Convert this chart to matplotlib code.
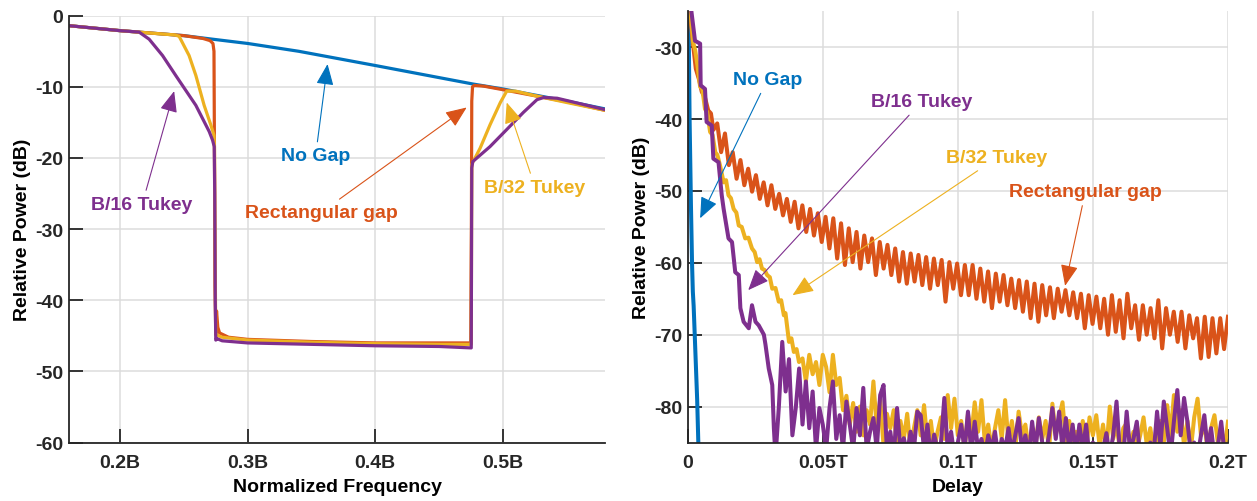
import numpy as np
import matplotlib
matplotlib.use("Agg")
import matplotlib.pyplot as plt

plt.rcParams['font.family'] = ['Liberation Sans', 'DejaVu Sans']
plt.rcParams['font.weight'] = 'bold'
plt.rcParams['axes.labelweight'] = 'bold'
plt.rcParams['axes.unicode_minus'] = False

BLUE = '#0072BD'
ORANGE = '#D95319'
YELLOW = '#EDB120'
PURPLE = '#7E2F8E'

# ---------------- spectrum, power vs normalized frequency ----------------
nogap_f = [0.16, 0.20, 0.25, 0.2725, 0.30, 0.34, 0.40, 0.45, 0.4765, 0.50, 0.55, 0.58]
nogap_db = [-1.4, -2.1, -2.8, -3.3, -3.9, -5.0, -7.0, -8.7, -9.6, -10.3, -12.0, -13.1]

rect_f = [0.16, 0.20, 0.25, 0.265, 0.2705, 0.2728, 0.2736, 0.2740, 0.2744, 0.2750,
          0.2756, 0.2766, 0.278, 0.285, 0.30, 0.35, 0.40, 0.45, 0.4748, 0.4753,
          0.4756, 0.4762, 0.4775, 0.485, 0.50, 0.55, 0.58]
rect_db = [-1.4, -2.1, -2.8, -3.2, -3.5, -3.9, -5.0, -20.0, -38.0, -44.8,
           -41.5, -43.8, -44.6, -45.2, -45.5, -45.8, -46.0, -46.0, -46.0, -30.0,
           -12.0, -10.0, -9.8, -9.9, -10.4, -12.1, -13.3]

tk32_f = [0.16, 0.20, 0.235, 0.243, 0.2463, 0.2541, 0.2594, 0.2659, 0.2712, 0.2736,
          0.2740, 0.2744, 0.2750, 0.276, 0.28, 0.30, 0.35, 0.40, 0.45, 0.4752,
          0.4756, 0.4822, 0.490, 0.498, 0.503, 0.510, 0.529, 0.55, 0.58]
tk32_db = [-1.4, -2.1, -2.6, -2.7, -2.9, -5.6, -8.4, -12.6, -15.4, -16.8,
           -18.5, -32.0, -44.8, -44.9, -45.2, -45.6, -45.9, -46.1, -46.2, -46.2,
           -20.9, -18.6, -15.3, -12.2, -10.6, -10.6, -11.4, -12.2, -13.3]

tk16_f = [0.16, 0.20, 0.2149, 0.2228, 0.2333, 0.244, 0.2594, 0.2699, 0.2725, 0.2738,
          0.2742, 0.2746, 0.2750, 0.276, 0.28, 0.30, 0.35, 0.40, 0.45, 0.4752,
          0.4756, 0.4764, 0.4899, 0.503, 0.516, 0.5267, 0.532, 0.5425, 0.58]
tk16_db = [-1.4, -2.1, -2.3, -3.3, -5.6, -8.5, -12.6, -16.3, -17.5, -18.4,
           -25.0, -40.0, -45.6, -45.4, -45.7, -46.0, -46.2, -46.4, -46.5, -46.7,
           -21.4, -20.5, -18.4, -16.0, -13.6, -11.8, -11.5, -11.6, -13.2]

# ---------------- impulse response, power vs delay ----------------
nogap_t = [0.0003, 0.0007, 0.0012, 0.0016, 0.0019, 0.0022, 0.0026, 0.0030, 0.0035, 0.0040]
nogap_t_db = [-25.0, -40.0, -52.0, -60.0, -64.0, -66.0, -70.0, -74.0, -79.0, -86.0]

rect_head_t = [0.0008, 0.0018, 0.0030, 0.0042, 0.0052, 0.0064, 0.0076, 0.0086]
rect_head_db = [-25.0, -29.0, -33.0, -34.5, -36.2, -37.0, -38.8, -39.2]
rect_troughs = [-41.5, -44.6, -46.4, -48.3, -49.2, -50.1, -51.1, -52.0, -52.5, -53.4,
                -54.3, -55.2, -55.7, -56.2, -57.1,
                -58.0, -59.4, -60.3, -59.9, -60.8, -59.9, -61.7, -60.8, -61.7, -62.6,
                -62.9, -62.6, -63.1, -63.6, -63.1, -65.4, -63.6, -64.5,
                -64.5, -65.0, -65.4, -66.3, -65.4, -65.9, -66.3, -66.8, -67.7, -68.2,
                -67.3, -67.7, -66.8, -67.3, -67.7, -69.1, -68.5,
                -69.1, -70.0, -69.6, -70.5, -69.1, -70.7, -70.0, -70.5, -71.9, -70.0,
                -71.0, -71.9, -70.5, -73.3, -73.1, -72.6, -72.0]
rect_peaks = [-40.6, -42.0, -44.6, -45.7, -46.9, -47.8, -48.8, -49.2, -50.4, -51.1,
              -51.5, -52.0, -52.5, -53.1, -53.6,
              -53.8, -54.5, -55.2, -55.7, -56.2, -56.6, -57.1, -57.5, -58.0, -58.5,
              -58.7, -58.9, -59.2, -59.4, -59.6, -59.9, -60.1, -60.3,
              -60.3, -60.8, -61.2, -61.5, -61.7, -62.2, -62.4, -62.6, -62.9, -63.1,
              -63.4, -63.6, -63.8, -64.1, -64.3, -64.5, -64.7,
              -65.0, -64.5, -65.2, -64.3, -65.9, -65.9, -66.3, -65.2, -66.3, -66.8,
              -66.8, -67.3, -67.7, -67.5, -67.7, -67.7, -67.5]

tk32_head_t = [0.0010, 0.0020, 0.0028, 0.0036, 0.0046, 0.0054, 0.0064, 0.0072, 0.0083, 0.0092,
               0.0102, 0.0110, 0.0120, 0.0133, 0.0142, 0.0151, 0.0160, 0.0170, 0.0180, 0.0189,
               0.0200, 0.0213, 0.0225, 0.0238, 0.0248, 0.0257, 0.0266, 0.0275, 0.0285, 0.0294,
               0.0304, 0.0313, 0.0325, 0.0337, 0.0346, 0.0356, 0.0362, 0.0369, 0.0375, 0.0384,
               0.0393, 0.0403, 0.0412]
tk32_head_db = [-25.0, -29.3, -30.5, -32.5, -35.5, -35.8, -38.6, -39.0, -41.8, -42.2,
                -44.6, -45.0, -46.5, -48.8, -48.5, -50.6, -51.0, -52.5, -53.0, -54.8,
                -55.0, -56.6, -56.5, -58.0, -58.5, -59.9, -59.5, -60.8, -61.0, -61.7,
                -62.0, -63.6, -63.5, -65.4, -65.2, -67.3, -67.0, -69.1, -71.0, -70.5,
                -72.4, -72.0, -73.8]
tk32_floor = [-73.3, -76.5, -72.8, -75.5, -73.8, -77.0, -72.8, -74.5, -78.0, -72.8,
              -77.0, -76.0, -80.5, -78.5, -82.5, -79.5, -83.5, -80.0, -84.0, -80.5,
              -82.5, -76.5, -83.0, -79.0, -85.5, -81.0, -83.0, -80.5, -86.0, -82.0,
              -84.5, -81.0, -86.0, -83.0, -80.5, -84.0, -79.8, -85.0, -82.0, -86.0,
              -83.5, -81.5, -84.5, -78.4, -83.0, -78.9, -84.0, -82.0, -86.0, -81.0,
              -84.0, -79.4, -83.5, -79.1, -85.0, -82.5, -86.0, -83.0, -80.5, -84.5,
              -79.1, -85.0, -82.0, -86.0, -80.7, -84.0, -82.5, -86.0, -83.0, -85.5,
              -81.5, -84.5, -82.0, -86.0, -79.6, -84.0, -81.5, -79.4, -85.0, -82.0,
              -86.0, -83.5, -85.5, -82.0, -86.0, -81.5, -84.0, -81.2, -85.5, -82.5,
              -86.0, -80.0, -84.5, -82.5, -86.0, -83.0, -82.3, -85.5, -83.5, -86.0,
              -84.0, -81.5, -85.5, -83.0, -86.0, -84.5, -82.0, -85.0, -79.8, -84.0,
              -78.4, -83.5, -80.5, -85.5, -82.0, -86.0, -81.5, -78.9, -84.0, -82.5,
              -86.0, -83.0, -81.2, -85.0, -83.0, -86.0, -82.1]

tk16_head_t = [0.0012, 0.0027, 0.0046, 0.0048, 0.0064, 0.0070, 0.0089, 0.0095, 0.0114, 0.0126,
               0.0133, 0.0151, 0.0164, 0.0176, 0.0189, 0.0195, 0.0207, 0.0226, 0.0238, 0.0251,
               0.0263, 0.0282, 0.0288, 0.0300, 0.0313, 0.0319, 0.0325]
tk16_head_db = [-24.5, -29.1, -29.5, -35.3, -35.8, -40.4, -40.9, -45.5, -46.0, -50.6,
                -52.5, -56.6, -57.1, -61.3, -61.7, -66.3, -68.2, -69.1, -65.9, -68.2,
                -68.7, -70.0, -71.4, -74.7, -77.0, -83.0, -87.0]
tk16_floor = [-80.0, -71.0, -77.9, -73.4, -84.0, -80.2, -74.7, -82.5, -76.5, -83.0,
              -77.9, -86.0, -80.2, -82.5, -86.0, -80.2, -76.5, -84.5, -81.2, -86.0,
              -79.3, -82.5, -86.0, -80.2, -84.0, -77.4, -86.0, -83.5, -81.6, -86.0,
              -78.4, -77.0, -86.0, -83.5, -87.0, -80.2, -86.0, -84.4, -86.5, -83.5,
              -86.0, -80.7, -81.2, -86.0, -82.5, -87.0, -83.9, -86.0, -85.0, -78.8,
              -86.0, -83.5, -87.0, -85.0, -82.5, -86.0, -80.7, -86.5, -82.1, -86.0,
              -84.5, -87.0, -84.0, -86.0, -83.5, -87.0, -84.5, -86.0, -83.0, -86.5,
              -84.0, -81.6, -86.0, -84.0, -87.0, -82.1, -86.0, -81.6, -85.0, -86.5,
              -84.0, -80.2, -84.5, -80.7, -86.0, -81.6, -86.0, -82.5, -86.5, -82.5,
              -86.0, -82.5, -87.0, -85.0, -86.0, -87.0, -86.0, -83.7, -87.0, -84.0,
              -79.3, -86.5, -87.0, -80.7, -86.0, -84.5, -82.1, -87.0, -86.0, -87.5,
              -85.0, -86.5, -80.7, -85.5, -79.3, -83.0, -87.0, -82.0, -77.7, -84.0,
              -78.8, -82.1, -86.5, -85.0, -87.0, -84.0, -81.2, -86.0, -83.0, -87.0,
              -85.5, -82.1, -86.5, -87.0]

freq_ticks = [0.2, 0.3, 0.4, 0.5]
freq_labels = ['0.2B', '0.3B', '0.4B', '0.5B']
delay_ticks = [0, 0.05, 0.1, 0.15, 0.2]
delay_labels = ['0', '0.05T', '0.1T', '0.15T', '0.2T']

# assemble the delay-domain traces
rect_osc = np.empty(2 * len(rect_peaks))
rect_osc[0::2] = rect_troughs
rect_osc[1::2] = rect_peaks
rect_t = np.concatenate([rect_head_t, np.linspace(0.0095, 0.2, len(rect_osc))])
rect_t_db = np.concatenate([rect_head_db, rect_osc])

tk32_t = np.concatenate([tk32_head_t, np.linspace(0.0425, 0.2, len(tk32_floor))])
tk32_t_db = np.concatenate([tk32_head_db, tk32_floor])

tk16_t = np.concatenate([tk16_head_t, np.linspace(0.03375, 0.2, len(tk16_floor))])
tk16_t_db = np.concatenate([tk16_head_db, tk16_floor])


def style_axes(ax):
    ax.grid(True, color='#dcdcdc', lw=1.1)
    ax.set_axisbelow(True)
    for s in ('top', 'right'):
        ax.spines[s].set_visible(False)
    for s in ('left', 'bottom'):
        ax.spines[s].set_color('#262626')
        ax.spines[s].set_linewidth(1.3)
    ax.tick_params(direction='in', length=10, width=1.3, color='#262626',
                   labelsize=14, labelcolor='#262626')
    ax.tick_params(axis='x', pad=8)
    ax.tick_params(axis='y', pad=4)


def label(ax, text, xy, xytext, color):
    ax.annotate(text, xy=xy, xytext=xytext, color=color, fontsize=14,
                fontweight='bold', ha='center', va='center',
                arrowprops=dict(arrowstyle='-|>,head_length=0.65,head_width=0.27',
                                color=color, lw=0.8, mutation_scale=20,
                                shrinkA=2, shrinkB=0))


fig = plt.figure(figsize=(12.57, 5.02), dpi=100)
axL = fig.add_axes([0.0549, 0.1165, 0.4264, 0.8502])
axR = fig.add_axes([0.5471, 0.1165, 0.4298, 0.859])

# left panel
lw = 2.3
axL.plot(nogap_f, nogap_db, color=BLUE, lw=lw)
axL.plot(rect_f, rect_db, color=ORANGE, lw=lw)
axL.plot(tk32_f, tk32_db, color=YELLOW, lw=lw)
axL.plot(tk16_f, tk16_db, color=PURPLE, lw=lw)
axL.set_xlim(0.16, 0.58)
axL.set_ylim(-60, 0)
axL.set_xticks(freq_ticks)
axL.set_xticklabels(freq_labels)
axL.set_yticks(np.arange(-60, 1, 10))
style_axes(axL)
axL.set_xlabel('Normalized Frequency', fontsize=14, labelpad=5)
axL.set_ylabel('Relative Power (dB)', fontsize=14, labelpad=3)

label(axL, 'No Gap', (0.3626, -6.8), (0.3532, -19.7), BLUE)
label(axL, 'B/16 Tukey', (0.2424, -10.6), (0.2173, -26.5), PURPLE)
label(axL, 'Rectangular gap', (0.4716, -12.9), (0.3579, -27.6), ORANGE)
label(axL, 'B/32 Tukey', (0.503, -12.2), (0.5252, -24.1), YELLOW)

# right panel
lw = 2.9
axR.plot(nogap_t, nogap_t_db, color=BLUE, lw=lw)
axR.plot(rect_t, rect_t_db, color=ORANGE, lw=lw)
axR.plot(tk32_t, tk32_t_db, color=YELLOW, lw=lw)
axR.plot(tk16_t, tk16_t_db, color=PURPLE, lw=lw)
axR.set_xlim(0, 0.2)
axR.set_ylim(-85, -25)
axR.set_xticks(delay_ticks)
axR.set_xticklabels(delay_labels)
axR.set_yticks(np.arange(-80, -29, 10))
style_axes(axR)
axR.set_xlabel('Delay', fontsize=14, labelpad=5)
axR.set_ylabel('Relative Power (dB)', fontsize=14, labelpad=3)

label(axR, 'No Gap', (0.0046, -53.8), (0.0295, -34.5), BLUE)
label(axR, 'B/16 Tukey', (0.0224, -63.8), (0.0865, -37.6), PURPLE)
label(axR, 'B/32 Tukey', (0.0388, -64.5), (0.1144, -45.4), YELLOW)
label(axR, 'Rectangular gap', (0.1397, -63.2), (0.1472, -50.1), ORANGE)

fig.savefig('out.png', dpi=100)
